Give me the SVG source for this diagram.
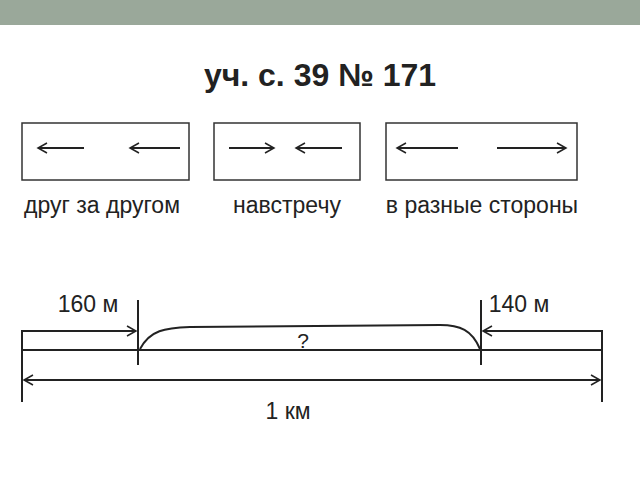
<svg xmlns="http://www.w3.org/2000/svg" width="640" height="480" viewBox="0 0 640 480">
<defs><marker id="a" markerWidth="12" markerHeight="12" refX="10" refY="6" orient="auto-start-reverse" markerUnits="userSpaceOnUse"><path d="M1,1 L10,6 L1,11" fill="none" stroke="#222" stroke-width="1.5"/></marker></defs>
<style>text{font-family:"Liberation Sans",Arial,sans-serif;fill:#222}.l{fill:#222;font-size:23px}.s{stroke:#222;stroke-width:2;fill:none}.b{fill:#fff;stroke:#333;stroke-width:1.5}.ar{stroke:#222;stroke-width:2;fill:none;marker-end:url(#a)}</style>
<rect x="0" y="0" width="640" height="25" fill="#9aa89a"/>
<text x="320" y="86" font-size="32" font-weight="bold" text-anchor="middle">уч. с. 39 № 171</text>
<g id="box1"><rect class="b" x="22" y="123" width="167" height="57"/><line class="ar" x1="84" y1="148" x2="38" y2="148"/><line class="ar" x1="180" y1="148" x2="130" y2="148"/><text class="l" x="102" y="213" text-anchor="middle">друг за другом</text></g>
<g id="box2"><rect class="b" x="214" y="123" width="146" height="57"/><line class="ar" x1="229" y1="148" x2="274" y2="148"/><line class="ar" x1="342" y1="148" x2="296" y2="148"/><text class="l" x="287" y="213" text-anchor="middle">навстречу</text></g>
<g id="box3"><rect class="b" x="386" y="123" width="191" height="57"/><line class="ar" x1="458" y1="148" x2="397" y2="148"/><line class="ar" x1="497" y1="148" x2="566" y2="148"/><text class="l" x="482" y="213" text-anchor="middle">в разные стороны</text></g>
<g id="connectors">
<line class="s" x1="22" y1="350" x2="602" y2="350"/>
<line class="s" x1="22" y1="330" x2="22" y2="402"/>
<line class="s" x1="602" y1="330" x2="602" y2="402"/>
<line class="s" x1="138" y1="300" x2="138" y2="365"/>
<line class="s" x1="481" y1="300" x2="481" y2="365"/>
<line class="ar" x1="22" y1="331" x2="136" y2="331"/>
<line class="ar" x1="602" y1="331" x2="483" y2="331"/>
<line class="ar" x1="300" y1="380" x2="600" y2="380"/>
<line class="ar" x1="300" y1="380" x2="24" y2="380"/>
<path class="s" d="M140,349 C150,330 165,328 190,327 L440,325 C460,325 472,330 480,349"/>
</g>
<text class="l" x="88" y="312" text-anchor="middle">160 м</text>
<text class="l" x="519" y="312" text-anchor="middle">140 м</text>
<text x="303" y="348" font-size="21" fill="#444" text-anchor="middle">?</text>
<text class="l" x="288" y="419" text-anchor="middle">1 км</text>
</svg>
